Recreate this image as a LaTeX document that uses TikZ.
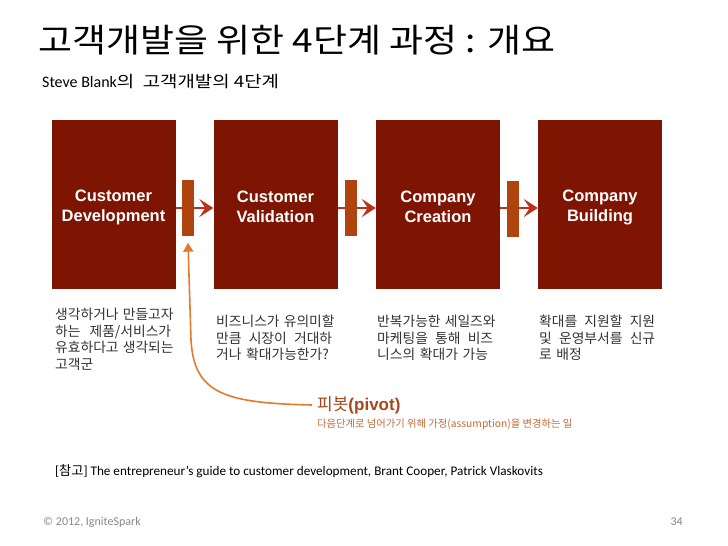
\documentclass[tikz,border=0pt]{standalone}
\usepackage{fontspec}
\setmainfont{Carlito}
\newfontfamily\kr{Noto Sans CJK KR}
\newfontfamily\arl{Liberation Sans}
\usetikzlibrary{arrows.meta}
\definecolor{boxred}{HTML}{7E1503}
\definecolor{barc}{HTML}{B0440F}
\definecolor{arrred}{HTML}{BE3019}
\definecolor{pivc}{HTML}{E47A2C}
\definecolor{pivtxt}{HTML}{A4491C}
\definecolor{subtxt}{HTML}{C46A35}
\definecolor{desc}{HTML}{333333}
\definecolor{foot}{HTML}{888888}
\newcommand\jl[1]{{\spaceskip=0.3em plus 1fil\makebox[116pt][s]{#1}}}
\newcommand\stagetext[2]{\parbox{120pt}{\centering\vspace*{6pt}#1\\#2}}
\tikzset{
  stage/.style={fill=boxred, minimum width=124pt, minimum height=169pt, inner sep=0pt,
    text=white, align=center, font=\arl\bfseries\fontsize{16.5}{20}\selectfont},
  gate/.style={fill=barc, minimum width=12pt, minimum height=56pt, inner sep=0pt},
  flow/.style={draw=arrred, line width=2pt, -{Stealth[length=14pt,width=18pt,inset=6pt]}},
  pivarrow/.style={draw=pivc, line width=1.6pt, -{Triangle[length=9pt,width=10pt]}},
  desctext/.style={anchor=north west, inner sep=0pt, text width=116pt, align=left,
    text=desc, font=\kr\fontsize{13.8}{16.6}\selectfont},
}
\begin{document}
\begin{tikzpicture}[x=1pt,y=-1pt]
\useasboundingbox[fill=white] (0,0) rectangle (728,546);
% title
\node[anchor=west, inner sep=0pt, font=\kr\fontsize{33}{36}\selectfont] (title) at (38,40) {\scalebox{1.12}[1]{고객개발을 위한 4단계 과정 : 개요}};
\node[anchor=west, inner sep=0pt, font=\fontsize{16}{18}\selectfont] (sub) at (42,82) {Steve Blank{\kr\fontsize{16}{18}\selectfont\scalebox{1.18}[1]{의\ \ 고객개발의 4단계}}};
% stages
\node[stage] (b1) at (113.5,204) {\stagetext{Customer}{Development}};
\node[stage] (b2) at (275.5,204) {\stagetext{Customer}{Validation}};
\node[stage] (b3) at (438,204) {\stagetext{Company}{Creation}};
\node[stage] (b4) at (600,204) {\stagetext{Company}{Building}};
% arrows
\draw[flow] ([yshift=-4pt]b1.east) -- ([yshift=-4pt]b2.west);
\draw[flow] ([yshift=-4pt]b2.east) -- ([yshift=-4pt]b3.west);
\draw[flow] ([yshift=-4pt]b3.east) -- ([yshift=-4pt]b4.west);
% gates
\node[gate] (k1) at (188,207.5) {};
\node[gate] (k2) at (350.5,208) {};
\node[gate] (k3) at (512.7,208.5) {};
% descriptions
\node[desctext] (d1) at (55,308) {\jl{생각하거나 만들고자}\\\jl{하는 제품/서비스가}\\\jl{유효하다고 생각되는}\\고객군};
\node[desctext] (d2) at (216,315) {\jl{비즈니스가 유의미할}\\\jl{만큼 시장이 거대하}\\거나 확대가능한가?};
\node[desctext] (d3) at (377,315) {\jl{반복가능한 세일즈와}\\\jl{마케팅을 통해 비즈}\\니스의 확대가 가능};
\node[desctext] (d4) at (539,315) {\jl{확대를 지원할 지원}\\\jl{및 운영부서를 신규}\\로 배정};
% pivot
\node[anchor=west, inner sep=0pt, text=pivtxt, font=\fontsize{17}{19}\selectfont] (pv) at (317,405) {{\kr 피봇}{\arl\bfseries (pivot)}};
\node[anchor=west, inner sep=0pt, text=subtxt, font=\kr\fontsize{10.3}{12}\selectfont] (pvs) at (317,424) {다음단계로 넘어가기 위해 가정(assumption)을 변경하는 일};
\draw[pivarrow] ([xshift=-5pt]pv.west) .. controls (225,403) and (194,394) .. (191,340) -- ([yshift=-7pt]k1.south);
% reference and footer
\node[anchor=west, inner sep=0pt, font=\fontsize{13.2}{15}\selectfont] (ref) at (55,471) {[{\kr 참고}] The entrepreneur’s guide to customer development, Brant Cooper, Patrick Vlaskovits};
\node[anchor=west, inner sep=0pt, text=foot, font=\fontsize{12}{14}\selectfont] (copy) at (43,522) {© 2012, IgniteSpark};
\node[anchor=east, inner sep=0pt, text=foot, font=\fontsize{12}{14}\selectfont] (page) at (683,522) {34};
\end{tikzpicture}
\end{document}
